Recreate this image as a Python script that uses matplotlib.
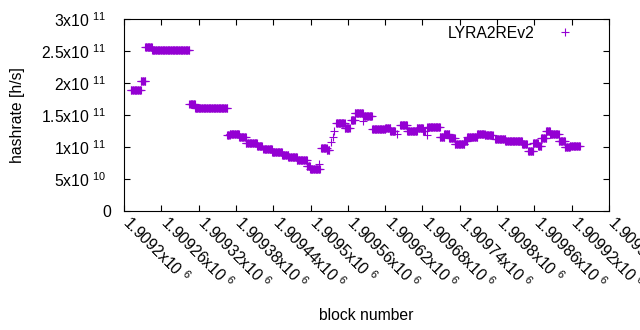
import numpy as np
import matplotlib.pyplot as plt
import matplotlib.transforms as mtransforms
from matplotlib.ticker import FuncFormatter

plt.rcParams['font.family'] = ['Liberation Sans', 'DejaVu Sans']
plt.rcParams['mathtext.fontset'] = 'custom'
plt.rcParams['mathtext.rm'] = 'Liberation Sans'
plt.rcParams['mathtext.it'] = 'Liberation Sans'

# runs of constant hashrate: first block, last block, hashrate
run_start = [1909211, 1909227, 1909234, 1909245, 1909305, 1909314, 1909366, 1909370,
             1909385, 1909396, 1909414, 1909424, 1909438, 1909454, 1909464, 1909478,
             1909494, 1909499, 1909514, 1909517, 1909526, 1909533, 1909536, 1909538,
             1909541, 1909555, 1909565, 1909571, 1909584, 1909585, 1909599, 1909620,
             1909628, 1909639, 1909644, 1909655, 1909671, 1909681, 1909687, 1909688,
             1909708, 1909715, 1909723, 1909732, 1909747, 1909752, 1909768, 1909780,
             1909797, 1909813, 1909840, 1909850, 1909858, 1909866, 1909871, 1909879,
             1909885, 1909899, 1909909, 1909917]
run_end = [1909227, 1909234, 1909245, 1909305, 1909314, 1909366, 1909370, 1909385,
           1909396, 1909414, 1909422, 1909438, 1909454, 1909464, 1909478, 1909494,
           1909499, 1909515, 1909514, 1909526, 1909530, 1909533, 1909536, 1909538,
           1909555, 1909563, 1909571, 1909584, 1909584, 1909599, 1909620, 1909628,
           1909636, 1909639, 1909655, 1909671, 1909681, 1909684, 1909687, 1909708,
           1909715, 1909723, 1909732, 1909747, 1909752, 1909768, 1909780, 1909793,
           1909813, 1909840, 1909848, 1909858, 1909866, 1909871, 1909879, 1909885,
           1909899, 1909909, 1909917, 1909933]
run_hash = [1.886e11, 2.03e11, 2.56e11, 2.51e11, 1.667e11, 1.604e11, 1.19e11, 1.21e11,
            1.15e11, 1.07e11, 1.02e11, 0.966e11, 0.92e11, 0.88e11, 0.85e11, 0.80e11,
            0.70e11, 0.65e11, 0.74e11, 0.99e11, 0.95e11, 1.08e11, 1.15e11, 1.25e11,
            1.37e11, 1.29e11, 1.42e11, 1.53e11, 1.40e11, 1.48e11, 1.28e11, 1.30e11,
            1.25e11, 1.21e11, 1.34e11, 1.25e11, 1.30e11, 1.25e11, 1.19e11, 1.31e11,
            1.16e11, 1.20e11, 1.14e11, 1.04e11, 1.09e11, 1.15e11, 1.21e11, 1.18e11,
            1.12e11, 1.09e11, 1.04e11, 0.94e11, 1.06e11, 1.02e11, 1.14e11, 1.25e11,
            1.20e11, 1.09e11, 1.00e11, 1.01e11]

x_ticks = np.arange(1909200, 1909981, 60)
y_ticks = [0, 5e10, 1e11, 1.5e11, 2e11, 2.5e11, 3e11]

FS = 11.3

blocks = []
hashes = []
for s, e, h in zip(run_start, run_end, run_hash):
    b = np.arange(s, e + 1)
    blocks.extend(b)
    hashes.extend([h] * len(b))


def sci(v, pos=None, tail=''):
    if v == 0:
        return '0'
    exp = int(np.floor(np.log10(abs(v))))
    mant = v / 10 ** exp
    return '%gx10 $^{%d}$%s' % (round(mant, 6), exp, tail)


fig = plt.figure(figsize=(6.4, 3.3), dpi=100)
ax = fig.add_axes([124 / 640, 1 - 211 / 330, 485 / 640, 192 / 330])

ax.plot(blocks, hashes, linestyle='none', marker='+', markersize=5.5,
        markeredgewidth=0.8, color='#9400d3', label='LYRA2REv2')

ax.set_xlim(1909200, 1909980)
ax.set_ylim(0, 3e11)
ax.set_xticks(x_ticks)
ax.set_yticks(y_ticks)
ax.xaxis.set_major_formatter(FuncFormatter(sci))
ax.yaxis.set_major_formatter(FuncFormatter(lambda v, p: sci(v, p, tail='  ')))
ax.tick_params(direction='in', length=4, width=0.8, top=True, right=True,
               labelsize=FS)
ax.tick_params(axis='y', pad=9)
ax.tick_params(axis='x', pad=1)
shift = mtransforms.ScaledTranslation(9 / 100, 0, fig.dpi_scale_trans)
for lbl in ax.get_xticklabels():
    lbl.set_rotation(-45)
    lbl.set_ha('left')
    lbl.set_va('top')
    lbl.set_rotation_mode('anchor')
    lbl.set_transform(lbl.get_transform() + shift)
for sp in ax.spines.values():
    sp.set_linewidth(0.8)

ax.set_xlabel('block number', fontsize=FS)
ax.set_ylabel('hashrate [h/s]', fontsize=FS)
ax.xaxis.set_label_coords(0.5, -0.505)
ax.yaxis.set_label_coords(-0.205, 0.5)

ax.legend(loc='upper right', bbox_to_anchor=(0.942, 0.965), frameon=False,
          markerfirst=False, fontsize=FS, borderpad=0, borderaxespad=0,
          handlelength=2, handletextpad=0.95, numpoints=1)

fig.savefig('out.png', dpi=100)
